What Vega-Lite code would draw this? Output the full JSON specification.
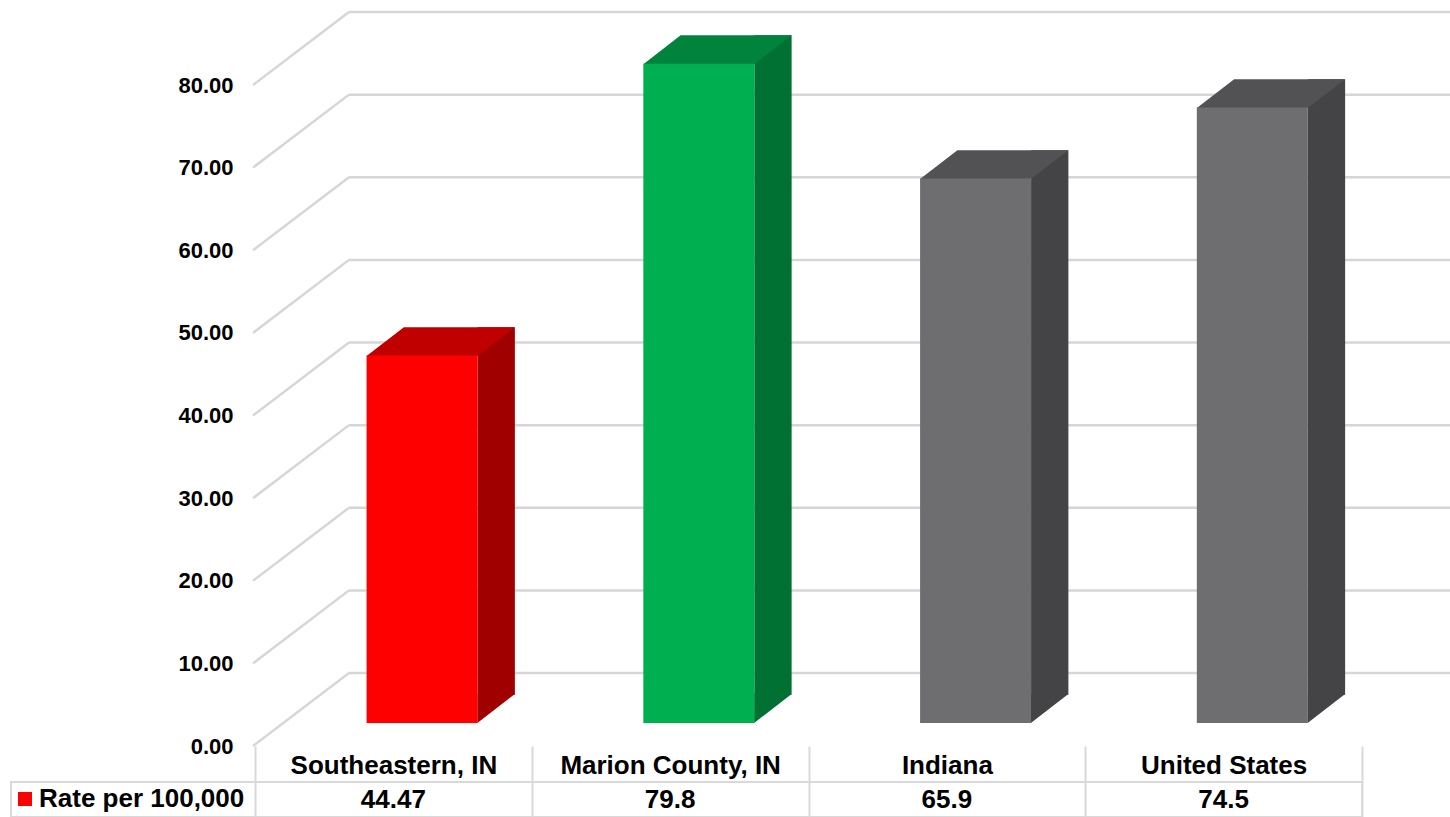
{
  "$schema": "https://vega.github.io/schema/vega-lite/v6.json",
  "autosize": "none",
  "padding": {"left": 11, "top": 85, "right": 88, "bottom": 732},
  "background": "#ffffff",
  "config": {
    "font": "Liberation Sans",
    "view": {"stroke": null},
    "axis": {"labelFont": "Liberation Sans", "labelFontWeight": "bold", "labelColor": "#000000"},
    "axisX": {"title": null, "domain": false, "grid": false, "ticks": true, "tickBand": "extent", "tickSize": 71, "tickColor": "#D9D9D9", "tickWidth": 2, "labelPadding": -52, "labelBaseline": "middle", "labelFontSize": 26, "labelLimit": 0, "labelAngle": 0},
    "axisY": {"title": null, "format": ".2f", "offset": -242, "ticks": false, "domain": false, "grid": false, "labelPadding": 20, "labelFontSize": 22}
  },
  "datasets": {
    "rates": [
      {"region": "Southeastern, IN", "rate": 44.47},
      {"region": "Marion County, IN", "rate": 79.8},
      {"region": "Indiana", "rate": 65.9},
      {"region": "United States", "rate": 74.5}
    ],
    "grid": [{"v": 0}, {"v": 10}, {"v": 20}, {"v": 30}, {"v": 40}, {"v": 50}, {"v": 60}, {"v": 70}, {"v": 80}]
  },
  "spacing": 36,
  "bounds": "flush",
  "vconcat": [
    {
      "width": 1351,
      "height": 661,
      "layer": [
        {
          "data": {"name": "grid"},
          "mark": {"type": "rule", "color": "#D6D6D6", "strokeWidth": 2.5, "yOffset": -73},
          "encoding": {
            "y": {"field": "v", "type": "quantitative", "scale": {"domain": [0, 80], "nice": false}, "title": null, "axis": {"values": [0, 10, 20, 30, 40, 50, 60, 70, 80]}},
            "x": {"value": 338},
            "x2": {"value": 1445}
          }
        },
        {
          "data": {"name": "grid"},
          "mark": {"type": "rule", "color": "#D6D6D6", "strokeWidth": 2.5, "y2Offset": -73},
          "encoding": {
            "y": {"field": "v", "type": "quantitative", "scale": {"domain": [0, 80], "nice": false}, "title": null, "axis": {"values": [0, 10, 20, 30, 40, 50, 60, 70, 80]}},
            "y2": {"field": "v"},
            "x": {"value": 242},
            "x2": {"value": 338}
          }
        },
        {
          "data": {"name": "rates"},
          "mark": {"type": "bar", "width": 37.3, "xOffset": 102.85, "yOffset": -51.3, "y2Offset": -51.3},
          "encoding": {
            "x": {"field": "region", "type": "nominal", "sort": null, "scale": {"type": "band", "domain": ["Southeastern, IN", "Marion County, IN", "Indiana", "United States"], "range": [244, 1351], "paddingInner": 0, "paddingOuter": 0}, "title": null},
            "y": {"field": "rate", "type": "quantitative", "scale": {"domain": [0, 80], "nice": false}, "title": null, "axis": {"values": [0, 10, 20, 30, 40, 50, 60, 70, 80]}},
            "y2": {"datum": 0},
            "color": {"field": "region", "type": "nominal", "scale": {"domain": ["Southeastern, IN", "Marion County, IN", "Indiana", "United States"], "range": ["#A00000", "#007033", "#444446", "#444446"]}, "legend": null}
          }
        },
        {
          "data": {"name": "rates"},
          "mark": {"type": "point", "shape": "M84,-52L84,-23L121.5,-52Z", "size": 4, "filled": true, "opacity": 1, "strokeWidth": 0},
          "encoding": {
            "x": {"field": "region", "type": "nominal", "sort": null, "scale": {"type": "band", "domain": ["Southeastern, IN", "Marion County, IN", "Indiana", "United States"], "range": [244, 1351], "paddingInner": 0, "paddingOuter": 0}, "title": null},
            "y": {"datum": 0, "type": "quantitative", "scale": {"domain": [0, 80], "nice": false}, "title": null, "axis": {"values": [0, 10, 20, 30, 40, 50, 60, 70, 80]}},
            "color": {"field": "region", "type": "nominal", "scale": {"domain": ["Southeastern, IN", "Marion County, IN", "Indiana", "United States"], "range": ["#A00000", "#007033", "#444446", "#444446"]}, "legend": null}
          }
        },
        {
          "data": {"name": "rates"},
          "mark": {"type": "point", "shape": "M-26.8,-22.5L84.2,-22.5L121.5,-51.3L10.5,-51.3Z", "size": 4, "filled": true, "opacity": 1, "strokeWidth": 0},
          "encoding": {
            "x": {"field": "region", "type": "nominal", "sort": null, "scale": {"type": "band", "domain": ["Southeastern, IN", "Marion County, IN", "Indiana", "United States"], "range": [244, 1351], "paddingInner": 0, "paddingOuter": 0}, "title": null},
            "y": {"field": "rate", "type": "quantitative", "scale": {"domain": [0, 80], "nice": false}, "title": null, "axis": {"values": [0, 10, 20, 30, 40, 50, 60, 70, 80]}},
            "color": {"field": "region", "type": "nominal", "scale": {"domain": ["Southeastern, IN", "Marion County, IN", "Indiana", "United States"], "range": ["#C00000", "#00843D", "#525254", "#525254"]}, "legend": null}
          }
        },
        {
          "data": {"name": "rates"},
          "mark": {"type": "bar", "width": 111, "xOffset": 28.7, "yOffset": -23, "y2Offset": -23},
          "encoding": {
            "x": {"field": "region", "type": "nominal", "sort": null, "scale": {"type": "band", "domain": ["Southeastern, IN", "Marion County, IN", "Indiana", "United States"], "range": [244, 1351], "paddingInner": 0, "paddingOuter": 0}, "title": null},
            "y": {"field": "rate", "type": "quantitative", "scale": {"domain": [0, 80], "nice": false}, "title": null, "axis": {"values": [0, 10, 20, 30, 40, 50, 60, 70, 80]}},
            "y2": {"datum": 0},
            "color": {"field": "region", "type": "nominal", "scale": {"domain": ["Southeastern, IN", "Marion County, IN", "Indiana", "United States"], "range": ["#FF0000", "#00B050", "#6E6E70", "#6E6E70"]}, "legend": null}
          }
        }
      ],
      "resolve": {"scale": {"color": "independent"}}
    },
    {
      "width": 1351,
      "height": 35,
      "view": {"stroke": "#D9D9D9", "strokeWidth": 2},
      "data": {"name": "rates"},
      "encoding": {
        "x": {"field": "region", "type": "nominal", "sort": null, "scale": {"type": "band", "domain": ["Southeastern, IN", "Marion County, IN", "Indiana", "United States"], "range": [244, 1351], "paddingInner": 0, "paddingOuter": 0}, "axis": null}
      },
      "layer": [
        {
          "mark": {"type": "text", "fontSize": 26, "fontWeight": "bold", "color": "#000000", "font": "Liberation Sans"},
          "encoding": {"text": {"field": "rate", "type": "quantitative"}}
        },
        {
          "mark": {"type": "point", "shape": "square", "filled": true, "opacity": 0},
          "encoding": {
            "color": {
              "datum": "Rate per 100,000",
              "scale": {"range": ["#FF0000"]},
              "legend": {"title": null, "orient": "none", "legendX": 1, "legendY": 701, "padding": 0, "symbolType": "square", "symbolSize": 196, "symbolOpacity": 1, "symbolStrokeWidth": 0, "symbolFillColor": "#FF0000", "labelFont": "Liberation Sans", "labelFontSize": 26, "labelFontWeight": "bold", "labelColor": "#000000", "labelOffset": 1, "labelLimit": 0}
            }
          }
        }
      ]
    }
  ]
}
